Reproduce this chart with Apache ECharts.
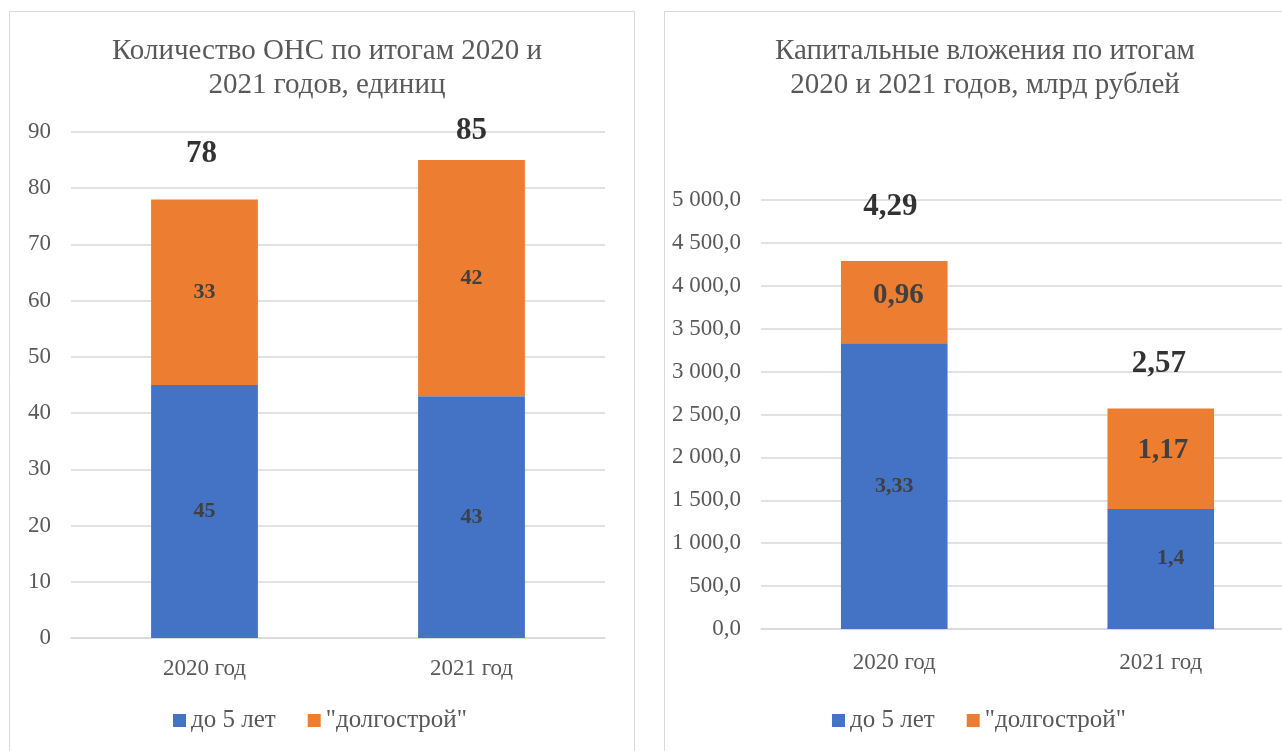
<!DOCTYPE html>
<html>
<head>
<meta charset="utf-8">
<script src="https://cdn.jsdelivr.net/npm/echarts@6/dist/echarts.min.js"></script>
<style>
  html, body { margin: 0; padding: 0; background: #fff; }
  #chart { width: 1282px; height: 751px; }
</style>
</head>
<body>
<div id="chart"></div>
<script>
  // данные
  var categories = ['2020 год', '2021 год']
  var seriesNames = ['до 5 лет', '"долгострой"']
  var countUpTo5 = [45, 43]          // ОНС, единиц
  var countLongBuild = [33, 42]
  var investUpTo5 = [3330, 1400]     // млн рублей (подписи в млрд)
  var investLongBuild = [960, 1170]

  var countTotal = countUpTo5.map(function (v, i) { return v + countLongBuild[i] })
  var investTotal = investUpTo5.map(function (v, i) { return v + investLongBuild[i] })

  var FONT = 'Liberation Serif'
  var BLUE = '#4472C4'
  var ORANGE = '#ED7D31'
  var GRID = '#D9D9D9'
  var TXT = '#595959'

  function bln(v) {
    return String(Math.round(v) / 1000).replace('.', ',')
  }
  function mln(v) {
    var s = v >= 1000 ? Math.floor(v / 1000) + ' ' + String(v % 1000).padStart(3, '0') : String(v)
    return s + ',0'
  }

  // ручные смещения подписей (как в исходнике)
  var totalOffsetL = [[-3, -45], [0, -29]]
  var totalOffsetR = [[-4, -54], [-2, -45]]
  var segOffsetR1 = [[0, 0], [10, -11]]
  var segOffsetR2 = [[4, -7], [2, -8]]

  function withOffsets(vals, offs) {
    return vals.map(function (v, i) {
      return { value: v, label: { offset: offs[i] } }
    })
  }

  var segLabel = {
    show: true,
    position: 'inside',
    fontFamily: FONT,
    fontSize: 22,
    fontWeight: 'bold',
    color: '#404040'
  }
  var totalLabel = {
    show: true,
    position: 'inside',
    fontFamily: FONT,
    fontSize: 31,
    fontWeight: 'bold',
    color: '#000'
  }

  function legendAt(x) {
    return {
      data: seriesNames,
      left: x,
      top: 708,
      padding: 0,
      icon: 'rect',
      itemWidth: 13,
      itemHeight: 13,
      itemGap: 32,
      textStyle: { fontFamily: FONT, fontSize: 25, color: TXT }
    }
  }

  var myChart = echarts.init(document.getElementById('chart'))
  var option = {
    animation: false,
    textStyle: { fontFamily: FONT },
    graphic: [
      { type: 'rect', shape: { x: 9.5, y: 11.5, width: 625, height: 800 }, style: { fill: 'none', stroke: GRID, lineWidth: 1 }, silent: true },
      { type: 'rect', shape: { x: 664.5, y: 11.5, width: 700, height: 800 }, style: { fill: 'none', stroke: GRID, lineWidth: 1 }, silent: true }
    ],
    title: [{
      text: 'Количество ОНС по итогам 2020 и\n2021 годов, единиц',
      left: 322,
      top: 29,
      textAlign: 'center',
      textStyle: { fontFamily: FONT, fontSize: 29, fontWeight: 'normal', color: TXT, lineHeight: 34 }
    }, {
      text: 'Капитальные вложения по итогам\n2020 и 2021 годов, млрд рублей',
      left: 980,
      top: 29,
      textAlign: 'center',
      textStyle: { fontFamily: FONT, fontSize: 29, fontWeight: 'normal', color: TXT, lineHeight: 34 }
    }],
    legend: [legendAt(173), legendAt(832)],
    grid: [
      { left: 71, top: 132, width: 534, height: 506, outerBoundsMode: 'none' },
      { left: 761, top: 200, width: 533, height: 429, outerBoundsMode: 'none' }
    ],
    xAxis: [0, 1].map(function (g) {
      return {
        type: 'category',
        gridIndex: g,
        data: categories,
        axisTick: { show: false },
        axisLine: { lineStyle: { color: GRID, width: 1.5 } },
        axisLabel: { fontFamily: FONT, fontSize: 23, color: TXT, margin: g ? 22 : 19 }
      }
    }),
    yAxis: [{
      type: 'value',
      gridIndex: 0,
      min: 0,
      max: 90,
      interval: 10,
      axisLine: { show: false },
      axisTick: { show: false },
      splitLine: { lineStyle: { color: GRID, width: 1.5 } },
      axisLabel: { fontFamily: FONT, fontSize: 23, color: TXT, margin: 20 }
    }, {
      type: 'value',
      gridIndex: 1,
      min: 0,
      max: 5000,
      interval: 500,
      axisLine: { show: false },
      axisTick: { show: false },
      splitLine: { lineStyle: { color: GRID, width: 1.5 } },
      axisLabel: { fontFamily: FONT, fontSize: 23, color: TXT, margin: 20, formatter: mln }
    }],
    series: [{
      name: seriesNames[0], type: 'bar', stack: 'c', xAxisIndex: 0, yAxisIndex: 0,
      barWidth: '40%', data: countUpTo5, itemStyle: { color: BLUE }, label: segLabel
    }, {
      name: seriesNames[1], type: 'bar', stack: 'c', xAxisIndex: 0, yAxisIndex: 0,
      barWidth: '40%', data: countLongBuild, itemStyle: { color: ORANGE }, label: segLabel
    }, {
      name: 'итого', type: 'scatter', xAxisIndex: 0, yAxisIndex: 0, symbolSize: 0,
      data: withOffsets(countTotal, totalOffsetL), label: totalLabel
    }, {
      name: seriesNames[0], type: 'bar', stack: 'i', xAxisIndex: 1, yAxisIndex: 1,
      barWidth: '40%', data: withOffsets(investUpTo5, segOffsetR1), itemStyle: { color: BLUE },
      label: Object.assign({}, segLabel, { formatter: function (p) { return bln(p.value) } })
    }, {
      name: seriesNames[1], type: 'bar', stack: 'i', xAxisIndex: 1, yAxisIndex: 1,
      barWidth: '40%', data: withOffsets(investLongBuild, segOffsetR2), itemStyle: { color: ORANGE },
      label: Object.assign({}, segLabel, { fontSize: 29, formatter: function (p) { return bln(p.value) } })
    }, {
      name: 'итого ', type: 'scatter', xAxisIndex: 1, yAxisIndex: 1, symbolSize: 0,
      data: withOffsets(investTotal, totalOffsetR),
      label: Object.assign({}, totalLabel, { formatter: function (p) { return bln(p.value) } })
    }]
  }
  option && myChart.setOption(option)
  window.addEventListener('resize', myChart.resize)
</script>
</body>
</html>
